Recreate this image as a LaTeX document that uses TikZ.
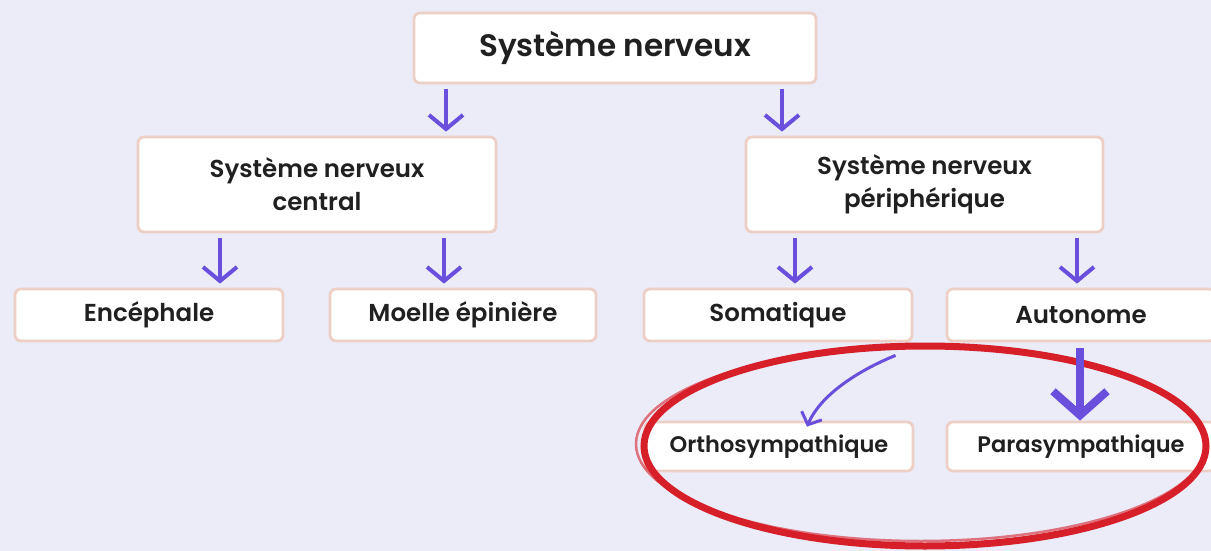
\documentclass[tikz,border=0pt]{standalone}
\usepackage{fontspec}
\setmainfont{Poppins SemiBold}
\usetikzlibrary{arrows.meta}
\definecolor{bg}{HTML}{EBECF8}
\definecolor{bord}{HTML}{EDCFC6}
\definecolor{pur}{HTML}{6A4FDD}
\definecolor{rd}{HTML}{D61F29}
\definecolor{txt}{HTML}{202020}
\begin{document}
\begin{tikzpicture}[x=1pt,y=-1pt,
  box/.style={draw=bord, line width=2.8pt, fill=white, rounded corners=6pt,
    text=txt, font=\fontsize{24.5}{33}\selectfont, align=center, inner sep=0pt},
  small/.style={font=\fontsize{22.5}{30}\selectfont},
  arr/.style={draw=pur, line width=4pt,
    -{Straight Barb[length=14pt,width=34pt]}, shorten <=5pt, shorten >=4pt},
  bigarr/.style={draw=pur, line width=8pt,
    -{Straight Barb[length=24pt,width=54pt]}, shorten <=6pt},
  thinarr/.style={draw=pur, line width=3pt,
    -{Straight Barb[length=10pt,width=22pt]}},
  loop/.style={draw=rd, line width=7pt},
]
\useasboundingbox (0,0) rectangle (1211,551);
\fill[bg] (0,0) rectangle (1211,551);

\node[box, minimum width=402pt, minimum height=70pt,
  font=\fontsize{31}{36}\selectfont] (top) at (615,48) {Système nerveux};
\node[box, minimum width=358pt, minimum height=95pt] (snc) at (317,184.5)
  {Système nerveux\\central};
\node[box, minimum width=357pt, minimum height=95pt] (snp) at (924.5,184.5)
  {Système nerveux\\périphérique};
\node[box, minimum width=268pt, minimum height=52pt] (enc) at (149,315) {Encéphale};
\node[box, minimum width=266pt, minimum height=52pt] (moe) at (463,315) {Moelle épinière};
\node[box, minimum width=268pt, minimum height=52pt] (som) at (778,315) {Somatique};
\node[box, minimum width=268pt, minimum height=52pt] (aut) at (1081,315) {Autonome};
\node[box, small, minimum width=268pt, minimum height=49pt] (ort) at (779,446.5) {Orthosympathique};
\node[box, small, minimum width=268pt, minimum height=49pt] (par) at (1081,446.5) {Parasympathique};

% red hand-drawn loop
\draw[loop] (925,446) ellipse [x radius=281, y radius=100];
\draw[rd, line width=2.5pt, opacity=.6] (921,444) ellipse [x radius=285, y radius=97];

% connectors
\draw[arr] ([xshift=-169pt]top.south) -- ([xshift=129pt]snc.north);
\draw[arr] ([xshift=167pt]top.south) -- ([xshift=-142.5pt]snp.north);
\draw[arr] ([xshift=-97pt]snc.south) -- ([xshift=71pt]enc.north);
\draw[arr] ([xshift=127pt]snc.south) -- ([xshift=-19pt]moe.north);
\draw[arr] ([xshift=-129.5pt]snp.south) -- ([xshift=17pt]som.north);
\draw[arr] ([xshift=152.5pt]snp.south) -- ([xshift=-4pt]aut.north);
\draw[bigarr] ([xshift=-1pt]aut.south) -- ([xshift=-1pt]par.north);
\draw[thinarr] ([shift={(-50,13)}]aut.south west)
  .. controls +(-30,12) and +(15,-35) .. ([xshift=28pt,yshift=-6pt]ort.north);
\end{tikzpicture}
\end{document}
